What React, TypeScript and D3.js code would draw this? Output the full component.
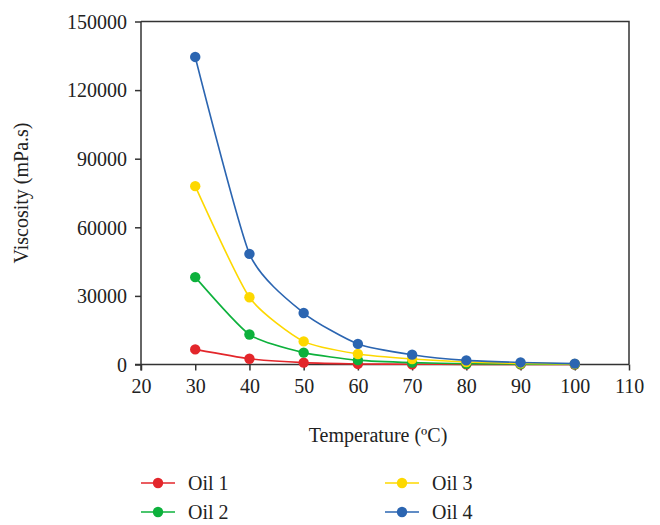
import * as d3 from 'd3'
import {useRef, useLayoutEffect} from "react";

const temperatures = [30, 40, 50, 60, 70, 80, 90, 100]
const oil1 = [6600, 2500, 800, 250, 120, 60, 30, 20]
const oil2 = [38200, 13100, 5200, 1900, 800, 350, 160, 80]
const oil3 = [78000, 29400, 10100, 4600, 2400, 1100, 500, 250]
const oil4 = [134500, 48400, 22500, 9000, 4300, 1800, 900, 400]
const seriesNames = ['Oil 1', 'Oil 2', 'Oil 3', 'Oil 4']
const seriesColors = ['#e3262b', '#0db13c', '#fdd800', '#2b65b1']
const xTicks = [20, 30, 40, 50, 60, 70, 80, 90, 100, 110]
const yTicks = [0, 30000, 60000, 90000, 120000, 150000]

const width = 660
const height = 525
const left = 141
const right = 629
const top = 21.5
const bottom = 364.5
const font = '"Liberation Serif", "Times New Roman", serif'
const fontSize = 20
const axisColor = '#333'

const App = () => {
  const svgRef = useRef<SVGSVGElement>(null)

  useLayoutEffect(() => {
    const svg = d3.select(svgRef.current)
    svg.selectAll('*').remove()

    const x = d3.scaleLinear().domain([20, 110]).range([left, right])
    const y = d3.scaleLinear().domain([0, 150000]).range([bottom, top])

    // frame: top and right edges
    svg.append('path')
      .attr('d', `M${left},${top}H${right}V${bottom}`)
      .attr('fill', 'none')
      .attr('stroke', axisColor)
      .attr('stroke-width', 1.5)

    const xAxis = d3.axisBottom(x).tickValues(xTicks).tickSize(6).tickSizeOuter(0)
    const gx = svg.append('g').attr('transform', `translate(0,${bottom})`).call(xAxis)
    gx.select('.domain').attr('d', `M${left - 6},0H${right}`)

    const yAxis = d3.axisLeft(y).tickValues(yTicks).tickSize(6).tickSizeOuter(0).tickFormat(d3.format('d'))
    const gy = svg.append('g').attr('transform', `translate(${left},0)`).call(yAxis)
    gy.select('.domain').attr('d', `M0,${top}V${bottom + 6}`)

    for (const g of [gx, gy]) {
      g.selectAll('path, line').attr('stroke', axisColor).attr('stroke-width', 1.5)
      g.selectAll('text')
        .attr('font-family', font)
        .attr('font-size', fontSize)
        .attr('fill', '#222')
    }
    gx.selectAll('text').attr('dy', null).attr('y', 28)
    gy.selectAll('text').attr('x', -14).attr('dy', '0.34em')

    const series = [oil1, oil2, oil3, oil4]
    const line = d3.line<number>()
      .x((_, i) => x(temperatures[i]))
      .y((d) => y(d))
      .curve(d3.curveCardinal.tension(0.4))

    series.forEach((values, k) => {
      const g = svg.append('g')
      g.append('path')
        .attr('d', line(values))
        .attr('fill', 'none')
        .attr('stroke', seriesColors[k])
        .attr('stroke-width', 1.6)
      g.selectAll('circle')
        .data(values)
        .join('circle')
        .attr('cx', (_, i) => x(temperatures[i]))
        .attr('cy', (d) => y(d))
        .attr('r', 5.2)
        .attr('fill', seriesColors[k])
    })

    // axis titles
    svg.append('text')
      .attr('x', 378)
      .attr('y', 442)
      .attr('text-anchor', 'middle')
      .attr('font-family', font)
      .attr('font-size', fontSize)
      .attr('fill', '#222')
      .text('Temperature (ºC)')

    svg.append('text')
      .attr('transform', `translate(28,${(top + bottom) / 2}) rotate(-90)`)
      .attr('text-anchor', 'middle')
      .attr('font-family', font)
      .attr('font-size', fontSize)
      .attr('fill', '#222')
      .text('Viscosity (mPa.s)')

    // legend, two columns
    const legend = svg.append('g')
    seriesNames.forEach((name, k) => {
      const lx = k < 2 ? 141 : 385
      const ly = k % 2 === 0 ? 483 : 512
      const item = legend.append('g').attr('transform', `translate(${lx},${ly})`)
      item.append('line')
        .attr('x1', 0).attr('x2', 34)
        .attr('stroke', seriesColors[k])
        .attr('stroke-opacity', 0.75)
        .attr('stroke-width', 2)
      item.append('circle')
        .attr('cx', 17)
        .attr('r', 5.2)
        .attr('fill', seriesColors[k])
      item.append('text')
        .attr('x', 47)
        .attr('dy', '0.34em')
        .attr('font-family', font)
        .attr('font-size', fontSize)
        .attr('fill', '#222')
        .text(name)
    })
  }, [])

  return (
    <div style={{position: 'absolute', left: 0, top: 0}}>
      <svg ref={svgRef} width={width} height={height} viewBox={`0 0 ${width} ${height}`}/>
    </div>
  )
}

export default App;
